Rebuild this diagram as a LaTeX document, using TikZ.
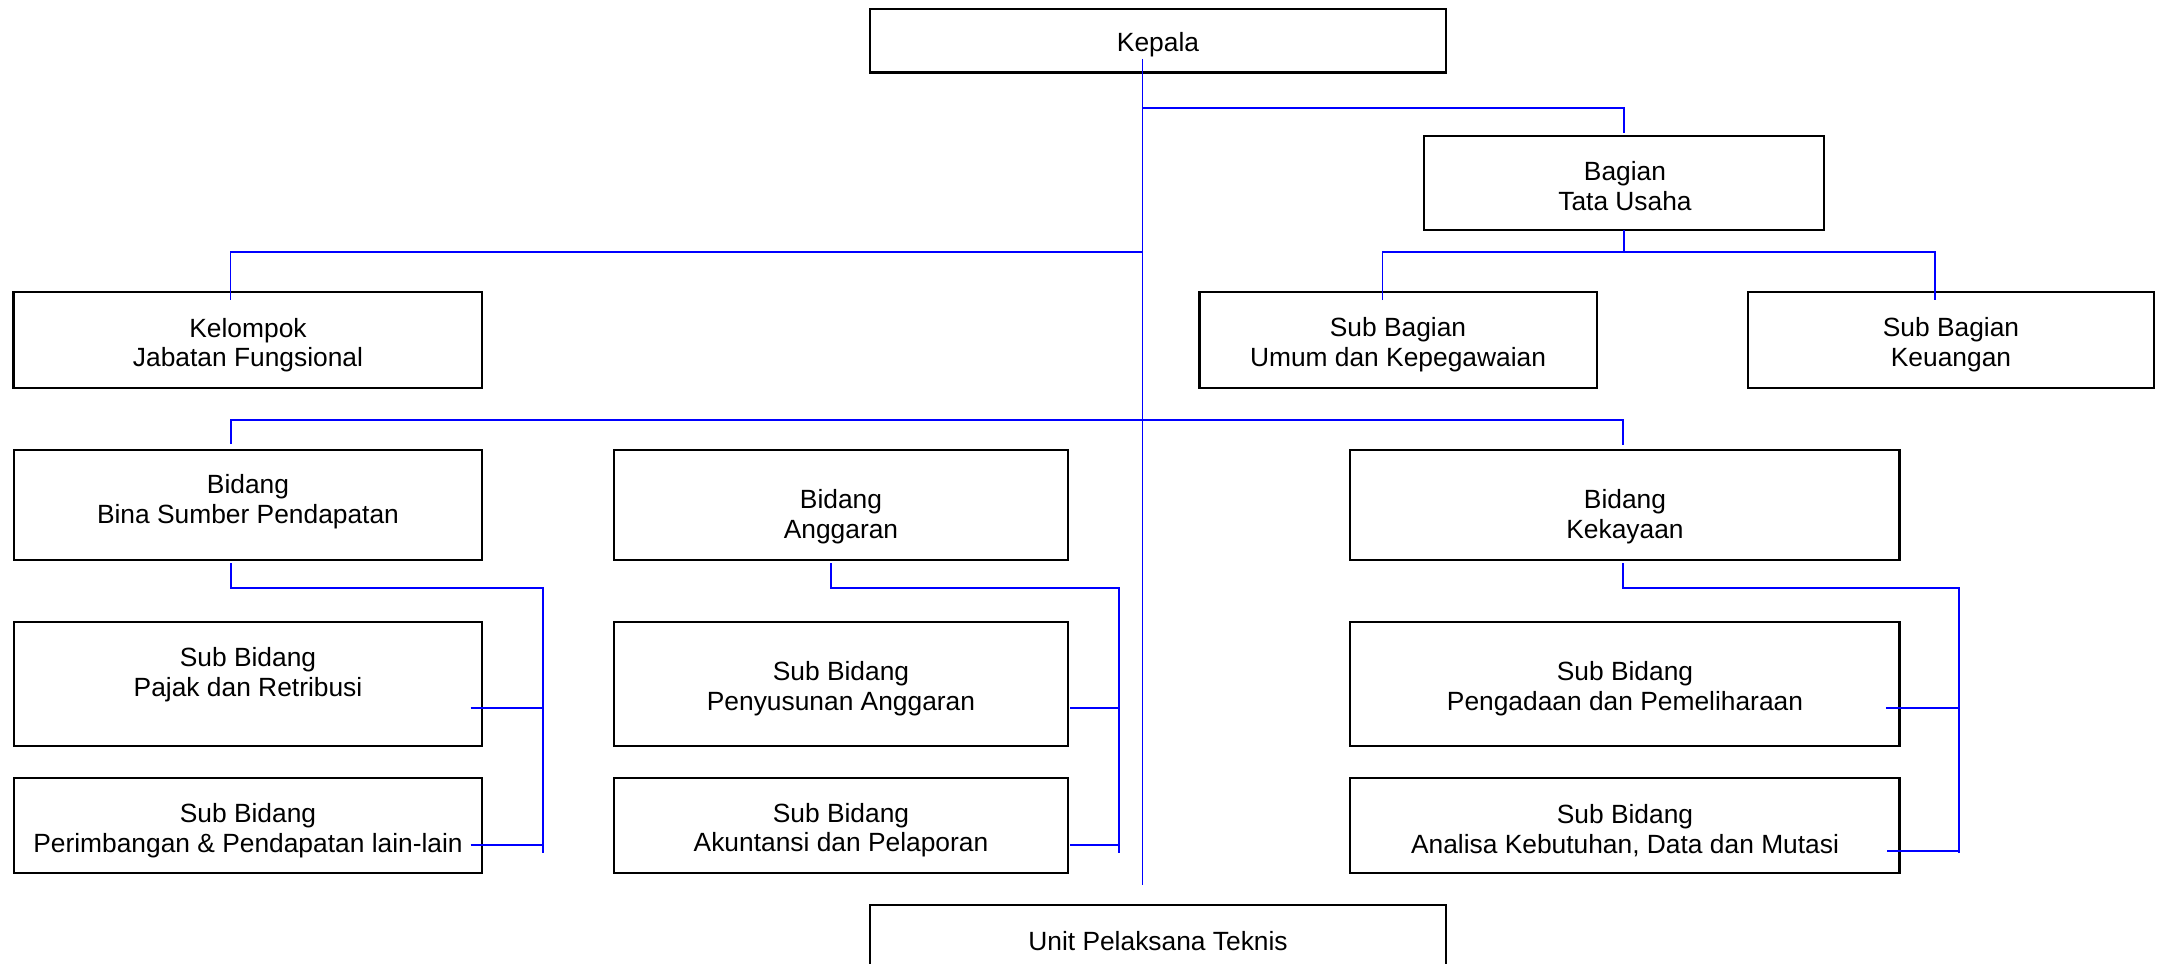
\documentclass[tikz,border=0pt]{standalone}
\usepackage{fontspec}
\setmainfont{Liberation Sans}
\usetikzlibrary{fit,calc}
\begin{document}
\begin{tikzpicture}[x=0.2mm,y=-0.2mm,
 box/.style={draw=black,line width=1.2pt,inner sep=0pt,outer sep=0pt},
 lbl/.style={align=center,font=\fontsize{15}{17}\selectfont,inner sep=0pt,yshift=-0.7mm},
 conn/.style={draw=blue,line width=1.1pt}]
\useasboundingbox[fill=white] (0,0) rectangle (2157,964);
% boxes
\node[box,fit={(870,9) (1446,72.5)}] (kepala) {};
\node[box,fit={(1424,135.7) (1824,230)}] (bagian) {};
\node[box,fit={(1199.5,292.3) (1597,387.7)}] (subumum) {};
\node[box,fit={(1748,292.3) (2154,387.7)}] (subkeu) {};
\node[box,fit={(13.5,292.3) (482,387.7)}] (kelompok) {};
\node[box,fit={(13.8,450) (482.4,560)}] (bina) {};
\node[box,fit={(614,450) (1068.3,560)}] (anggaran) {};
\node[box,fit={(1350.3,450) (1899.5,560)}] (kekayaan) {};
\node[box,fit={(13.8,621.7) (482.4,746)}] (pajak) {};
\node[box,fit={(13.8,777.7) (482.4,872.7)}] (perimb) {};
\node[box,fit={(614,621.7) (1068.3,746)}] (penyus) {};
\node[box,fit={(614,777.7) (1068.3,872.7)}] (akunt) {};
\node[box,fit={(1350.3,621.7) (1899.5,746)}] (pengad) {};
\node[box,fit={(1350.3,777.7) (1899.5,872.7)}] (analisa) {};
\node[box,fit={(870,905) (1446,985)}] (upt) {};
% texts
\node[lbl] (t-kepala) at (1158,40.7) {Kepala};
\node[lbl] (t-bagian) at (1625,183) {Bagian\\Tata Usaha};
\node[lbl] (t-subumum) at (1398,341.5) {Sub Bagian\\Umum dan Kepegawaian};
\node[lbl] (t-subkeu) at (1951,341.5) {Sub Bagian\\Keuangan};
\node[lbl] (t-kelompok) at (248,341.7) {Kelompok\\Jabatan Fungsional};
\node[lbl] (t-bina) at (248,498) {Bidang\\Bina Sumber Pendapatan};
\node[lbl] (t-anggaran) at (841,513.3) {Bidang\\Anggaran};
\node[lbl] (t-kekayaan) at (1625,513.3) {Bidang\\Kekayaan};
\node[lbl] (t-pajak) at (248,671) {Sub Bidang\\Pajak dan Retribusi};
\node[lbl] (t-perimb) at (248,827) {Sub Bidang\\Perimbangan \& Pendapatan lain-lain};
\node[lbl] (t-penyus) at (841,685) {Sub Bidang\\Penyusunan Anggaran};
\node[lbl] (t-akunt) at (841,826.7) {Sub Bidang\\Akuntansi dan Pelaporan};
\node[lbl] (t-pengad) at (1625,685) {Sub Bidang\\Pengadaan dan Pemeliharaan};
\node[lbl] (t-analisa) at (1625,826.7) {Sub Bidang\\Analisa Kebutuhan, Data dan Mutasi};
\node[lbl] (t-upt) at (1158,938) {Unit Pelaksana Teknis};
% connector points
\coordinate (s0) at (1142.5,59);
\coordinate (s1) at (1142.5,885);
\coordinate (jTU) at (1142.5,107.7);
\coordinate (tuEnd) at (1624,133);
\coordinate (jSub) at (1624,252);
\coordinate (umEnd) at (1382.5,300);
\coordinate (keEnd) at (1935,300);
\coordinate (jKel) at (1142.5,252);
\coordinate (kelEnd) at (230.5,300);
\coordinate (jBid) at (1142.5,420);
\coordinate (binaEnd) at (231,444);
\coordinate (kekEnd) at (1623,445);
\coordinate (binaTop) at (231,563.3);
\coordinate (binaBus) at (543,588.3);
\coordinate (binaBusEnd) at (543,853.3);
\coordinate (pajakT) at (470.5,708);
\coordinate (perimT) at (470.5,845);
\coordinate (angTop) at (830.7,563.3);
\coordinate (angBus) at (1119,588.3);
\coordinate (angBusEnd) at (1119,853.3);
\coordinate (penyusT) at (1070.3,708);
\coordinate (akuntT) at (1070.3,845);
\coordinate (kekTop) at (1623,563.3);
\coordinate (kekBus) at (1959,588.3);
\coordinate (kekBusEnd) at (1959,852.7);
\coordinate (pengadT) at (1885.8,708);
\coordinate (analisaT) at (1887,850.7);
% connectors
\draw[conn] (s0) -- (s1);
\draw[conn] (jTU) -| (tuEnd);
\draw[conn] (bagian.south) -- (jSub);
\draw[conn] (umEnd) |- (jSub) -| (keEnd);
\draw[conn] (jKel) -| (kelEnd);
\draw[conn] (binaEnd) |- (jBid) -| (kekEnd);
\draw[conn] (binaTop) |- (binaBus) -- (binaBusEnd);
\draw[conn] (pajakT) -- (pajakT -| binaBus);
\draw[conn] (perimT) -- (perimT -| binaBus);
\draw[conn] (angTop) |- (angBus) -- (angBusEnd);
\draw[conn] (penyusT) -- (penyusT -| angBus);
\draw[conn] (akuntT) -- (akuntT -| angBus);
\draw[conn] (kekTop) |- (kekBus) -- (kekBusEnd);
\draw[conn] (pengadT) -- (pengadT -| kekBus);
\draw[conn] (analisaT) -- (analisaT -| kekBus);
\end{tikzpicture}
\end{document}
